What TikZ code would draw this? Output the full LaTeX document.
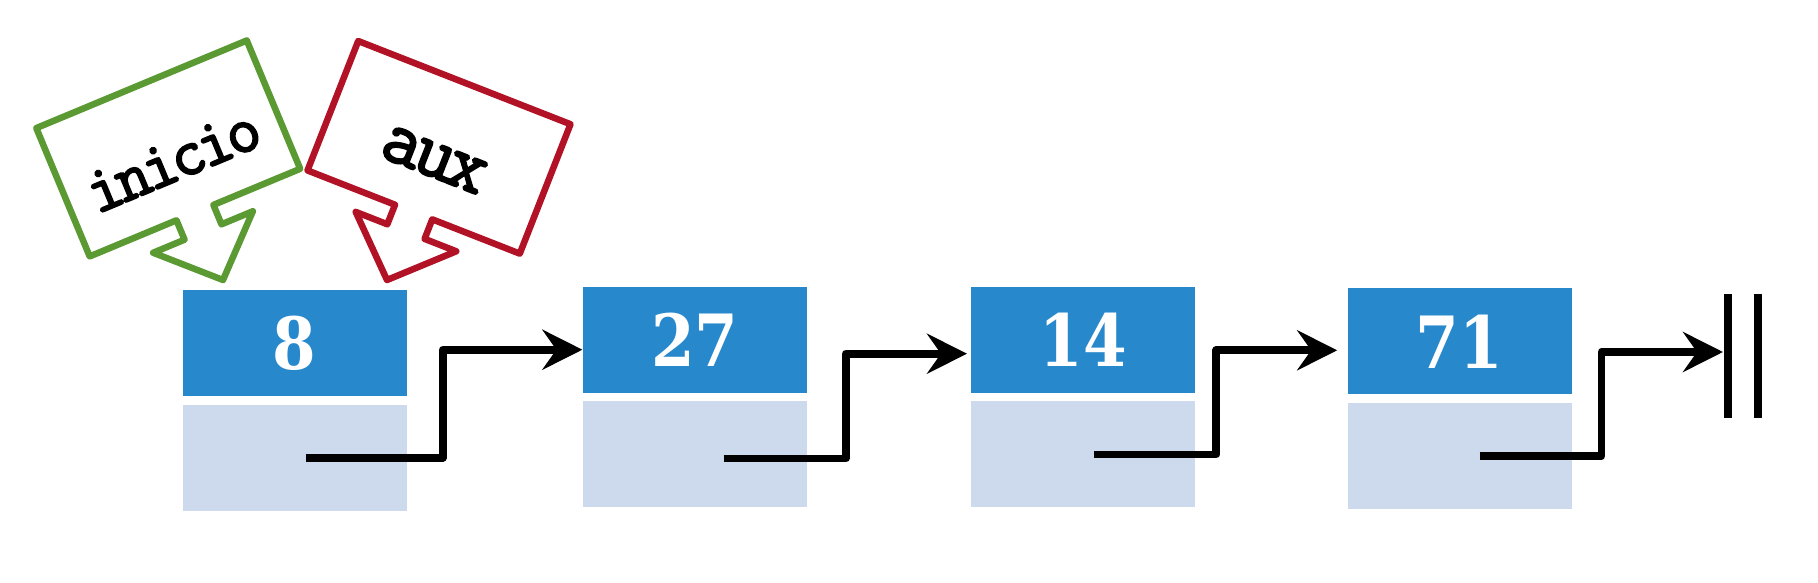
\documentclass[tikz,border=0pt]{standalone}
\usepackage{fontspec}
\newfontfamily\numfont{DejaVu Serif}[FakeStretch=0.87]
\newfontfamily\cartelfont{Latin Modern Mono}[FakeBold=2.5, LetterSpace=-7]
\usetikzlibrary{arrows.meta, positioning}

\definecolor{azul}{HTML}{2888CC}
\definecolor{celeste}{HTML}{CDD9EC}
\definecolor{verde}{HTML}{5B9A33}
\definecolor{rojo}{HTML}{B21225}

\begin{document}
\begin{tikzpicture}[
    x=0.02cm, y=0.02cm, % one unit = one pixel of the sketch
    >={Stealth[length=0.8cm, width=0.8cm, inset=0.28cm]},
    dato/.style={fill=azul, text=white, minimum width=4.48cm, minimum height=2.12cm,
        inner sep=0pt, font=\numfont\bfseries\fontsize{41}{48}\selectfont}, % value field
    puntero/.style={fill=celeste, minimum width=4.48cm, minimum height=2.12cm,
        inner sep=0pt}, % next field
    enlace/.style={->, line width=0.155cm, line join=round}, % link between nodes
    barra/.style={line width=0.15cm}, % null mark
    % pointer label: colour / text / font size
    pics/cartel/.style n args={3}{code={
        \draw[#1, line width=0.13cm, line join=round]
            (0,0) -- (54,52) -- (20,52) -- (20,73) -- (114,73) -- (114,212)
            -- (-114,212) -- (-114,73) -- (-20,73) -- (-20,52) -- (-54,52) -- cycle;
        \node[transform shape, font=\cartelfont\fontsize{#3}{#3}\selectfont] (-texto) at (0,129) {#2};
    }}
]
    \useasboundingbox (0,0) rectangle (1818,582);

    % Nodes of the list
    \node[dato] (d1) at (294.7,238.7) {8};
    \node[puntero, below=0.16cm of d1] (p1) {};
    \node[dato] (d2) at (694.7,242.3) {27};
    \node[puntero, below=0.16cm of d2] (p2) {};
    \node[dato] (d3) at (1083.3,242.3) {14};
    \node[puntero, below=0.16cm of d3] (p3) {};
    \node[dato] (d4) at (1459.5,240.7) {71};
    \node[puntero, below=0.16cm of d4] (p4) {};

    % Links
    \foreach \a/\b/\sx/\sy/\dx/\ex/\ey in {p1/d2/11/0/137/0/-10, p2/d3/29/-4/122/-4/-14, p3/d4/11/0/122/-10/-9}
        \draw[enlace] ([shift={(\sx,\sy)}]\a.center) -- ++(\dx,0) |- ([shift={(\ex,\ey)}]\b.west);

    % Last link goes to null
    \coordinate (nulo) at (1723,230);
    \draw[enlace] ([shift={(20,0)}]p4.center) -- ++(122,0) |- (nulo);
    \draw[barra] ([shift={(5,58)}]nulo) -- ++(0,-124);
    \draw[barra] ([shift={(35,58)}]nulo) -- ++(0,-124);

    % Pointer labels
    \pic[rotate=22.6] (inicio) at (223,302) {cartel={verde}{inicio}{38pt}};
    \pic[rotate=-21.4] (aux) at (387,302) {cartel={rojo}{aux}{44pt}};

\end{tikzpicture}
\end{document}
